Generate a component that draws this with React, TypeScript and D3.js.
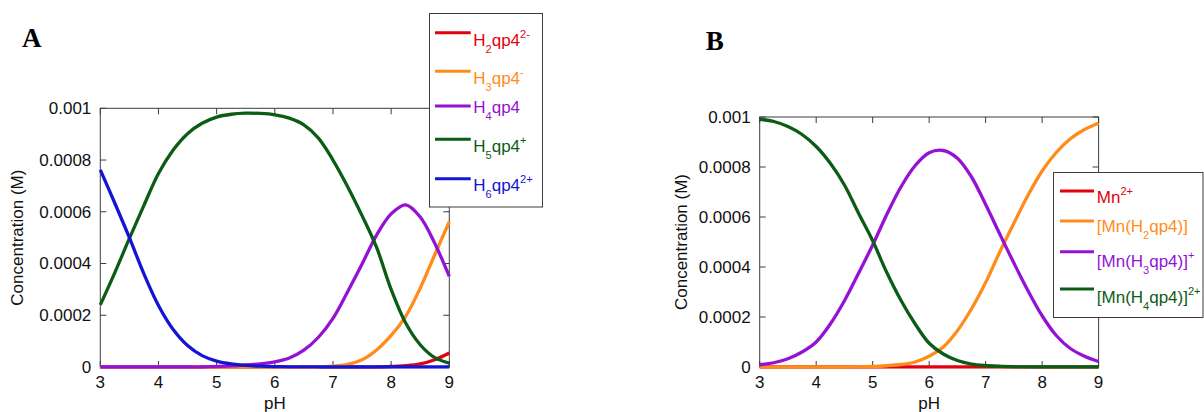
import React from 'react';
import * as d3 from 'd3';

// pH grid shared by both panels
const pH = [3, 3.25, 3.5, 3.75, 4, 4.25, 4.5, 4.75, 5, 5.25, 5.5, 5.75, 6,
  6.25, 6.5, 6.75, 7, 7.25, 7.5, 7.75, 8, 8.25, 8.5, 8.75, 9];

// Panel A: free ligand species, concentration in M
const h2qp4 = [0, 0, 0, 0, 0, 0, 0, 0, 0, 0, 0, 0, 0,
  0, 0, 0, 0, 0, 0, 0, 0.000002, 0.000005, 0.000012, 0.000028, 0.000054];
const h3qp4 = [0, 0, 0, 0, 0, 0, 0, 0, 0, 0, 0, 0, 0,
  0, 0, 0.000001, 0.000003, 0.00001, 0.000028, 0.000066, 0.000122, 0.000196, 0.000305, 0.000434, 0.000562];
const h4qp4 = [0, 0, 0, 0, 0, 0, 0, 0, 0.000002, 0.000004, 0.000008, 0.000012, 0.00002,
  0.000035, 0.000065, 0.000115, 0.000188, 0.00029, 0.000398, 0.00051, 0.000592, 0.000627, 0.00058, 0.000478, 0.00035];
const h5qp4 = [0.00024, 0.000365, 0.000497, 0.000625, 0.000748, 0.000838, 0.000902, 0.000942, 0.000966, 0.000977, 0.000981, 0.00098, 0.000975,
  0.000962, 0.000936, 0.000885, 0.0008, 0.000698, 0.000585, 0.000462, 0.0003, 0.00017, 0.000086, 0.000036, 0.000015];
const h6qp4 = [0.000762, 0.000633, 0.0005, 0.00036, 0.000238, 0.000146, 0.000083, 0.000044, 0.000023, 0.000012, 0.000006, 0.000003, 0.0000015,
  0.0000007, 0.0000003, 0.0000001, 0, 0, 0, 0, 0, 0, 0, 0, 0];

// Panel B: Mn complexes, concentration in M
const mnFree = [0, 0, 0, 0, 0, 0, 0, 0, 0, 0, 0, 0, 0,
  0, 0, 0, 0, 0, 0, 0, 0, 0, 0, 0, 0];
const mnH2 = [0, 0, 0, 0, 0, 0, 0, 0.000001, 0.000002, 0.000005, 0.00001, 0.00002, 0.000043,
  0.00008, 0.000145, 0.000233, 0.000338, 0.00046, 0.000575, 0.000687, 0.000784, 0.000858, 0.000913, 0.00095, 0.000975];
const mnH3 = [0.000009, 0.000017, 0.000033, 0.00006, 0.0001, 0.000172, 0.000265, 0.000375, 0.000488, 0.00061, 0.00072, 0.000805, 0.000857,
  0.000866, 0.000835, 0.00076, 0.00065, 0.000532, 0.000416, 0.000305, 0.000205, 0.000126, 0.000074, 0.000043, 0.000022];
const mnH4 = [0.000991, 0.000982, 0.000962, 0.00093, 0.000882, 0.000815, 0.000728, 0.000615, 0.000505, 0.000378, 0.000267, 0.000173, 0.000095,
  0.000052, 0.000026, 0.000012, 0.000006, 0.000003, 0.000001, 0, 0, 0, 0, 0, 0];

const xTicks = [3, 4, 5, 6, 7, 8, 9];
const yTicks = [0, 0.0002, 0.0004, 0.0006, 0.0008, 0.001];
const yTickLabels = ['0', '0.0002', '0.0004', '0.0006', '0.0008', '0.001'];

// legend labels: _{..} subscript, ^{..} superscript
const labelsA = ['H_{2}qp4^{2-}', 'H_{3}qp4^{-}', 'H_{4}qp4', 'H_{5}qp4^{+}', 'H_{6}qp4^{2+}'];
const labelsB = ['Mn^{2+}', '[Mn(H_{2}qp4)]', '[Mn(H_{3}qp4)]^{+}', '[Mn(H_{4}qp4)]^{2+}'];

const RED = '#e3000f';
const ORANGE = '#ff8c1a';
const PURPLE = '#9412d4';
const GREEN = '#0b5d16';
const BLUE = '#1414d4';

const FONT = "'Liberation Sans', Arial, Helvetica, sans-serif";
const FRAME = '#3c3c3c';

const panelA = {
  id: 'a', letter: 'A', letterX: 22, letterY: 46.7,
  left: 100.3, right: 449.3, top: 108.3, bottom: 367,
  yLabelX: 17.5,
  series: [h2qp4, h3qp4, h4qp4, h5qp4, h6qp4],
  colors: [RED, ORANGE, PURPLE, GREEN, BLUE],
  labels: labelsA,
  legend: {
    x: 429.5, y: 13.5, w: 113, h: 193.5,
    lineX0: 435, lineX1: 470.7, textX: 473.3,
    rowY: [32.7, 71.3, 106, 139.3, 178.7],
    baseY: [45.7, 83.5, 113.3, 151.7, 190.7],
  },
};

const panelB = {
  id: 'b', letter: 'B', letterX: 705.8, letterY: 50,
  left: 759.7, right: 1098.6, top: 117, bottom: 367,
  yLabelX: 681.4,
  series: [mnFree, mnH2, mnH3, mnH4],
  colors: [RED, ORANGE, PURPLE, GREEN],
  labels: labelsB,
  legend: {
    x: 1053.5, y: 172.5, w: 149.5, h: 145,
    lineX0: 1060, lineX1: 1094, textX: 1096.8,
    rowY: [191, 221, 251.7, 289],
    baseY: [203.3, 231.5, 266.7, 303.3],
  },
};

// split "H_{2}qp4^{2-}" into text runs
const parseLabel = (s: string) => {
  const parts = s.split(/(_\{[^}]*\}|\^\{[^}]*\})/).filter(p => p.length);
  return parts.map(p => {
    if (p.startsWith('_{')) return { t: p.slice(2, -1), shift: 7 };
    if (p.startsWith('^{')) return { t: p.slice(2, -1), shift: -8 };
    return { t: p, shift: 0 };
  });
};

const Label = ({ text, x, y, color }: { text: string; x: number; y: number; color: string }) => {
  const runs = parseLabel(text);
  let prev = 0;
  return (
    <text x={x} y={y} fill={color} fontFamily={FONT} fontSize={17}>
      {runs.map((r, i) => {
        const dy = r.shift - prev;
        prev = r.shift;
        return (
          <tspan key={i} dy={dy} fontSize={r.shift ? 11 : 17}>{r.t}</tspan>
        );
      })}
    </text>
  );
};

const Panel = ({ cfg }: { cfg: typeof panelA }) => {
  const x = d3.scaleLinear().domain([3, 9]).range([cfg.left, cfg.right]);
  const y = d3.scaleLinear().domain([0, 0.001]).range([cfg.bottom, cfg.top]);
  const line = d3.line<number>()
    .x((_, i) => x(pH[i]))
    .y(d => y(d))
    .curve(d3.curveCatmullRom.alpha(0.5));
  const lg = cfg.legend;
  const tick = 6;
  const clipId = 'clip-' + cfg.id;

  return (
    <g>
      <defs>
        {/* keep spline overshoot from dipping under the axis */}
        <clipPath id={clipId}>
          <rect x={cfg.left - 2} y={cfg.top - 4} width={cfg.right - cfg.left + 4} height={cfg.bottom - cfg.top + 5.7} />
        </clipPath>
      </defs>

      <text x={cfg.letterX} y={cfg.letterY} fontFamily="'Liberation Serif', 'Times New Roman', serif"
        fontWeight="bold" fontSize={27}>{cfg.letter}</text>

      {/* plot frame */}
      <rect x={cfg.left} y={cfg.top} width={cfg.right - cfg.left} height={cfg.bottom - cfg.top}
        fill="none" stroke={FRAME} strokeWidth={1} />

      {/* ticks on all four sides, pointing in */}
      {xTicks.map(t => (
        <g key={'x' + t}>
          <line x1={x(t)} x2={x(t)} y1={cfg.bottom} y2={cfg.bottom - tick} stroke={FRAME} />
          <line x1={x(t)} x2={x(t)} y1={cfg.top} y2={cfg.top + tick} stroke={FRAME} />
          <text x={x(t)} y={cfg.bottom + 20.5} textAnchor="middle" fontFamily={FONT} fontSize={17} fill="#111">{t}</text>
        </g>
      ))}
      {yTicks.map((t, i) => (
        <g key={'y' + t}>
          <line x1={cfg.left} x2={cfg.left + tick} y1={y(t)} y2={y(t)} stroke={FRAME} />
          <line x1={cfg.right} x2={cfg.right - tick} y1={y(t)} y2={y(t)} stroke={FRAME} />
          <text x={cfg.left - 9} y={y(t)} dy="0.35em" textAnchor="end" fontFamily={FONT} fontSize={17} fill="#111">{yTickLabels[i]}</text>
        </g>
      ))}

      <text x={(cfg.left + cfg.right) / 2} y={cfg.bottom + 42} textAnchor="middle"
        fontFamily={FONT} fontSize={17} fill="#111">pH</text>
      <text transform={`translate(${cfg.yLabelX},${(cfg.top + cfg.bottom) / 2}) rotate(-90)`}
        dy="0.35em" textAnchor="middle" fontFamily={FONT} fontSize={17} fill="#111">Concentration (M)</text>

      {/* species curves */}
      <g clipPath={`url(#${clipId})`}>
        {cfg.series.map((s, i) => (
          <path key={i} d={line(s) || ''} fill="none" stroke={cfg.colors[i]} strokeWidth={3.3} />
        ))}
      </g>

      {/* legend */}
      <rect x={lg.x} y={lg.y} width={lg.w} height={lg.h} fill="#fff" stroke={FRAME} strokeWidth={1} />
      {cfg.labels.map((lab, i) => (
        <g key={lab}>
          <line x1={lg.lineX0} x2={lg.lineX1} y1={lg.rowY[i]} y2={lg.rowY[i]} stroke={cfg.colors[i]} strokeWidth={3} />
          <Label text={lab} x={lg.textX} y={lg.baseY[i]} color={cfg.colors[i]} />
        </g>
      ))}
    </g>
  );
};

export default function App() {
  return (
    <svg width={1204} height={412} style={{ position: 'absolute', left: 0, top: 0, background: '#fff' }}>
      <Panel cfg={panelA} />
      <Panel cfg={panelB} />
    </svg>
  );
}
